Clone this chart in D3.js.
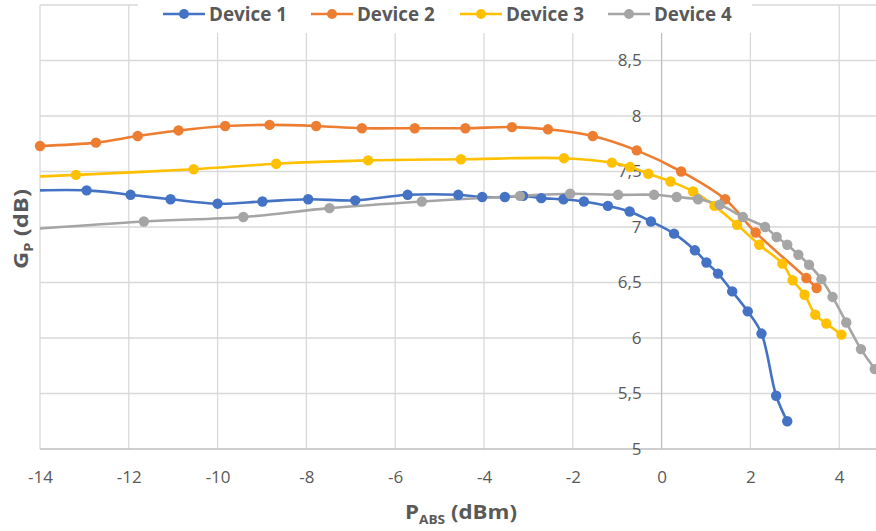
<!DOCTYPE html>
<html><head><meta charset="utf-8">
<script src="https://cdn.jsdelivr.net/npm/d3@7/dist/d3.min.js"></script>
<style>
html,body{margin:0;padding:0;background:#fff;}
svg{display:block;}
</style></head>
<body><svg id="c" width="876" height="531"></svg>
<script>
// ---- data ----
const seriesNames = ["Device 1", "Device 2", "Device 3", "Device 4"];
const blueX = [-14.9, -12.95, -11.96, -11.06, -10.0, -8.99, -7.96, -6.9, -5.72, -4.58, -4.04, -3.53, -3.12, -2.71, -2.21, -1.75, -1.21, -0.72, -0.24, 0.28, 0.75, 1.01, 1.27, 1.59, 1.94, 2.25, 2.58, 2.83];
const blueY = [7.32, 7.33, 7.29, 7.25, 7.21, 7.23, 7.25, 7.24, 7.29, 7.29, 7.27, 7.27, 7.28, 7.26, 7.25, 7.23, 7.19, 7.14, 7.05, 6.94, 6.79, 6.68, 6.58, 6.42, 6.24, 6.04, 5.48, 5.25];
const orangeX = [-14.0, -12.74, -11.8, -10.88, -9.83, -8.83, -7.78, -6.75, -5.56, -4.42, -3.37, -2.56, -1.55, -0.56, 0.44, 1.43, 2.12, 3.26, 3.49];
const orangeY = [7.73, 7.76, 7.82, 7.87, 7.91, 7.92, 7.91, 7.89, 7.89, 7.89, 7.90, 7.88, 7.82, 7.69, 7.50, 7.25, 6.95, 6.54, 6.45];
const yellowX = [-14.9, -13.19, -10.54, -8.68, -6.61, -4.52, -2.2, -1.12, -0.71, -0.3, 0.2, 0.71, 1.19, 1.70, 2.2, 2.72, 2.95, 3.22, 3.46, 3.71, 4.05];
const yellowY = [7.44, 7.47, 7.52, 7.57, 7.60, 7.61, 7.62, 7.58, 7.54, 7.48, 7.41, 7.32, 7.19, 7.02, 6.84, 6.67, 6.52, 6.39, 6.21, 6.13, 6.03];
const grayX = [-14.9, -11.66, -9.42, -7.48, -5.40, -3.19, -2.06, -0.98, -0.17, 0.34, 0.82, 1.31, 1.83, 2.33, 2.59, 2.83, 3.08, 3.32, 3.6, 3.85, 4.16, 4.49, 4.80, 5.0];
const grayY = [6.96, 7.05, 7.09, 7.17, 7.23, 7.28, 7.30, 7.29, 7.29, 7.27, 7.25, 7.20, 7.09, 7.00, 6.91, 6.84, 6.75, 6.66, 6.53, 6.37, 6.14, 5.90, 5.72, 5.60];
const xTicks = [-14, -12, -10, -8, -6, -4, -2, 0, 2, 4];
const yTicks = [5, 5.5, 6, 6.5, 7, 7.5, 8, 8.5];
const yGrid = [5.5, 6, 6.5, 7, 7.5, 8, 8.5, 9];
const colors = ["#4472C4", "#ED7D31", "#FFC000", "#A5A5A5"];

const series = [
  {name: seriesNames[0], xs: blueX, ys: blueY, color: colors[0]},
  {name: seriesNames[1], xs: orangeX, ys: orangeY, color: colors[1]},
  {name: seriesNames[2], xs: yellowX, ys: yellowY, color: colors[2]},
  {name: seriesNames[3], xs: grayX, ys: grayY, color: colors[3]}
];

const svg = d3.select("#c");
const L = 40, R = 883.6, T = 5, B = 449;
const x = d3.scaleLinear().domain([-14, 5]).range([L, R]);
const y = d3.scaleLinear().domain([5, 9]).range([B, T]);
const txt = "#595959";
const font = "'Open Sans', sans-serif";

// squeeze/stretch a text horizontally so its width matches the reference
function fitWidth(sel, targetW, ax) {
  const w = sel.node().getBBox().width;
  const k = targetW / w;
  sel.attr("transform", `translate(${ax},0) scale(${k},1) translate(${-ax},0)`);
}

svg.append("defs").append("clipPath").attr("id", "plot")
  .append("rect").attr("x", L).attr("y", T - 10).attr("width", R - L).attr("height", B - T + 20);

// grid
const g = svg.append("g");
g.selectAll("line.h").data(yGrid).enter().append("line")
  .attr("x1", L).attr("x2", R).attr("y1", d => y(d)).attr("y2", d => y(d))
  .attr("stroke", "#d9d9d9").attr("stroke-width", 1.3);
g.selectAll("line.v").data(xTicks.filter(d => d !== 0)).enter().append("line")
  .attr("y1", T).attr("y2", B).attr("x1", d => x(d)).attr("x2", d => x(d))
  .attr("stroke", "#d9d9d9").attr("stroke-width", 1.3);

// axis lines
svg.append("line").attr("x1", L).attr("x2", R).attr("y1", y(5)).attr("y2", y(5))
  .attr("stroke", "#bfbfbf").attr("stroke-width", 1.3);
svg.append("line").attr("x1", x(0)).attr("x2", x(0)).attr("y1", T).attr("y2", B)
  .attr("stroke", "#bfbfbf").attr("stroke-width", 1.3);

// x tick labels via axis
const xAxis = d3.axisBottom(x).tickValues(xTicks).tickSize(0).tickPadding(0).tickFormat(d3.format("d"));
const xa = svg.append("g").attr("transform", `translate(0,${B})`).call(xAxis);
xa.select(".domain").remove();
xa.selectAll("text").attr("dy", null).attr("y", 34).attr("fill", txt)
  .style("font-family", font).style("font-size", "17px");
xa.selectAll("text").text(d => d < 0 ? "-" + Math.abs(d) : d);

// y tick labels via axis at x=0
const fmt = v => (v % 1 === 0 ? String(v) : v.toFixed(1).replace(".", ","));
const yAxis = d3.axisLeft(y).tickValues(yTicks).tickSize(0).tickPadding(20).tickFormat(fmt);
const ya = svg.append("g").attr("transform", `translate(${x(0)},0)`).call(yAxis);
ya.select(".domain").remove();
ya.selectAll("text").attr("fill", txt).style("font-family", font).style("font-size", "17px");

// lines
const line = d3.line().x(d => x(d[0])).y(d => y(d[1])).curve(d3.curveCatmullRom.alpha(0.5));
const lg = svg.append("g").attr("clip-path", "url(#plot)");
series.forEach(s => {
  const pts = s.xs.map((v, i) => [v, s.ys[i]]);
  lg.append("path").datum(pts).attr("d", line).attr("fill", "none")
    .attr("stroke", s.color).attr("stroke-width", 2.6).attr("stroke-linejoin", "round");
});
series.forEach(s => {
  const pts = s.xs.map((v, i) => [v, s.ys[i]]).filter(p => p[0] >= -14.05);
  svg.append("g").selectAll("circle").data(pts).enter().append("circle")
    .attr("cx", d => x(d[0])).attr("cy", d => y(d[1])).attr("r", 5.2)
    .attr("fill", s.color);
});

// legend box (white, covers grid at top)
svg.append("rect").attr("x", 138).attr("y", 0).attr("width", 614).attr("height", 33).attr("fill", "#fff");
const legStart = [163, 311, 460, 608];
series.forEach((s, i) => {
  const lx = legStart[i];
  const lgp = svg.append("g");
  lgp.append("line").attr("x1", lx).attr("x2", lx + 42).attr("y1", 14).attr("y2", 14)
    .attr("stroke", s.color).attr("stroke-width", 2.6);
  lgp.append("circle").attr("cx", lx + 21).attr("cy", 14).attr("r", 5).attr("fill", s.color);
  const t = lgp.append("text").attr("x", lx + 46).attr("y", 21).text(s.name)
    .attr("fill", txt).style("font-family", font).style("font-weight", "bold").style("font-size", "18.7px");
  fitWidth(t, 78, lx + 46);
});

// axis titles
const xt = svg.append("text").attr("x", 461).attr("y", 519).attr("text-anchor", "middle")
  .attr("fill", txt).style("font-family", font).style("font-weight", "bold").style("font-size", "19.6px");
xt.append("tspan").text("P");
xt.append("tspan").text("ABS").attr("dy", 5).style("font-size", "12px");
xt.append("tspan").text(" (dBm)").attr("dy", -5);
fitWidth(xt, 112, 461);

const ytg = svg.append("g").attr("transform", "translate(28,229) rotate(-90)");
const yt = ytg.append("text").attr("x", 0).attr("y", 0).attr("text-anchor", "middle")
  .attr("fill", txt).style("font-family", font).style("font-weight", "bold").style("font-size", "19.6px");
yt.append("tspan").text("G");
yt.append("tspan").text("P").attr("dy", 5).style("font-size", "12px");
yt.append("tspan").text(" (dB)").attr("dy", -5);
fitWidth(yt, 80, 0);
</script>
</body></html>
